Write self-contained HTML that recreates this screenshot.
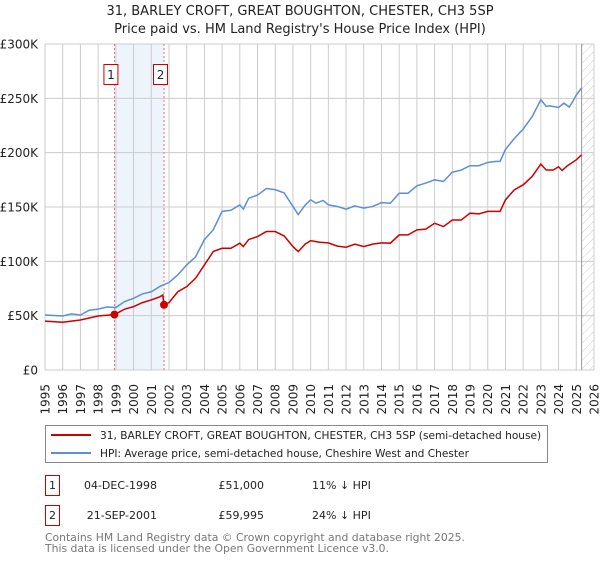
<!DOCTYPE html>
<html><head><meta charset="utf-8"><style>
body{margin:0;background:#fff;font-family:"DejaVu Sans","Liberation Sans",sans-serif;}
svg text{font-family:"DejaVu Sans","Liberation Sans",sans-serif;}
</style></head><body>
<svg id="chart" width="600" height="560" xmlns="http://www.w3.org/2000/svg">
<defs><pattern id="hatch" width="6" height="6" patternUnits="userSpaceOnUse" patternTransform="rotate(45)"><line x1="0" y1="0" x2="0" y2="6" stroke="#bbb" stroke-width="0.8"/></pattern></defs>
<text x="300" y="15" text-anchor="middle" font-size="13" fill="#222">31, BARLEY CROFT, GREAT BOUGHTON, CHESTER, CH3 5SP</text>
<text x="300" y="33" text-anchor="middle" font-size="13" fill="#222">Price paid vs. HM Land Registry's House Price Index (HPI)</text>
<g id="plot"></g>
<g>
<rect x="45.5" y="425.5" width="502" height="37" fill="#fff" stroke="#888"/>
<line x1="51" y1="435" x2="91" y2="435" stroke="#cc0000" stroke-width="2"/>
<text x="100" y="439" font-size="10.6" fill="#222">31, BARLEY CROFT, GREAT BOUGHTON, CHESTER, CH3 5SP (semi-detached house)</text>
<line x1="51" y1="453" x2="91" y2="453" stroke="#5b8fd6" stroke-width="2"/>
<text x="100" y="457" font-size="10.6" fill="#222">HPI: Average price, semi-detached house, Cheshire West and Chester</text>
</g>
<g font-size="11" fill="#222">
<rect x="45.5" y="475.5" width="14" height="20" fill="#fff" stroke="#cc0000"/>
<text x="52.5" y="489" text-anchor="middle">1</text>
<text x="157" y="489" text-anchor="end">04-DEC-1998</text>
<text x="264" y="489" text-anchor="end">£51,000</text>
<text x="312" y="489">11% ↓ HPI</text>
<rect x="45.5" y="505.5" width="14" height="20" fill="#fff" stroke="#cc0000"/>
<text x="52.5" y="519" text-anchor="middle">2</text>
<text x="157" y="519" text-anchor="end">21-SEP-2001</text>
<text x="264" y="519" text-anchor="end">£59,995</text>
<text x="312" y="519">24% ↓ HPI</text>
</g>
<text x="45" y="541" font-size="10.8" fill="#777">Contains HM Land Registry data © Crown copyright and database right 2025.</text>
<text x="45" y="552" font-size="10.8" fill="#777">This data is licensed under the Open Government Licence v3.0.</text>
</svg>
<script>
const hpiYears=[1995,1996,1996.5,1997,1997.5,1998,1998.5,1999,1999.5,2000,2000.5,2001,2001.5,2002,2002.5,2003,2003.5,2004,2004.5,2005,2005.5,2006,2006.2,2006.5,2007,2007.5,2008,2008.5,2009,2009.3,2009.7,2010,2010.3,2010.7,2011,2011.5,2012,2012.5,2013,2013.5,2014,2014.5,2015,2015.5,2016,2016.5,2017,2017.5,2018,2018.5,2019,2019.5,2020,2020.5,2020.7,2021,2021.5,2022,2022.5,2023,2023.3,2023.5,2024,2024.3,2024.6,2024.8,2025,2025.3];
const hpiValues=[50.6,49.7,51.6,50.6,55,56,58,57.5,63,66,70,72,77,80.5,87.5,96.7,104,120,129,146,147,152,148,158,161,167,166,163,150.5,143,152,156.6,153.5,156,152,150.5,148,151,149,150.5,154,153.5,162.7,162.7,169.5,172,175,173.5,182,184,188,188,191,192,192,203,213,221.7,233,248.7,242.6,243,241.6,245.6,242,247,253,259.5];
const priceYears=[1995,1996,1997,1998,1998.92,1999.5,2000,2000.5,2001,2001.5,2001.65,2001.72,2002,2002.5,2003,2003.5,2004,2004.5,2005,2005.5,2006,2006.2,2006.5,2007,2007.5,2008,2008.5,2009,2009.3,2009.7,2010,2010.5,2011,2011.5,2012,2012.5,2013,2013.5,2014,2014.5,2015,2015.5,2016,2016.5,2017,2017.5,2018,2018.5,2019,2019.5,2020,2020.7,2021,2021.5,2022,2022.5,2023,2023.3,2023.7,2024,2024.2,2024.5,2025,2025.3];
const priceValues=[45,44,46,49.7,51,56,58.3,62,64.5,67.5,69,60,62,72,76.7,84.4,96.7,109,112,112,116.7,113.6,120,122.8,127.4,127.4,123.4,113.6,109,116,119,117.6,117,114,113,115.8,113.6,115.8,117,116.7,124.3,124.3,129,129.6,135,132,138,138,144.3,143.7,146,146,156.6,165.8,170.4,178,189.5,184,184,187,183.6,188,193.4,198];
const saleYears=[1998.92,2001.72];
const saleValues=[51,59.995];
const saleLabels=["1","2"];
const yTicks=[0,50,100,150,200,250,300];
const yTickLabels=["£0","£50K","£100K","£150K","£200K","£250K","£300K"];
const xTicks=[1995,1996,1997,1998,1999,2000,2001,2002,2003,2004,2005,2006,2007,2008,2009,2010,2011,2012,2013,2014,2015,2016,2017,2018,2019,2020,2021,2022,2023,2024,2025,2026];
const dataEnd=2025.3;

const L=45,R=594,T=44,B=370;
const xs=y=>L+(y-1995)/(2026-1995)*(R-L);
const ys=v=>B-v/300*(B-T);
const NS="http://www.w3.org/2000/svg";
const g=document.getElementById('plot');
function mk(tag,attrs,parent){const e=document.createElementNS(NS,tag);for(const k in attrs)e.setAttribute(k,attrs[k]);(parent||g).appendChild(e);return e;}

const shade=mk('rect',{x:xs(saleYears[0]),y:T,width:xs(saleYears[1])-xs(saleYears[0]),height:B-T,fill:'#eef4fc'});


const hatch=mk('rect',{x:xs(dataEnd),y:T,width:R-xs(dataEnd),height:B-T,fill:'url(#hatch)'});



xTicks.forEach(t=>{
  const l=mk('line',{x1:xs(t),x2:xs(t),y1:T,y2:B,stroke:'#ccc','stroke-width':1});
  
  
  const x=xs(t);
  const tx=mk('text',{x:0,y:0,transform:`translate(${x+4.5},384) rotate(-90)`,'text-anchor':'end','font-size':'12',fill:'#222'});
  
  
  tx.textContent=t;
});
yTicks.forEach((t,i)=>{
  const l=mk('line',{x1:L,x2:R,y1:ys(t),y2:ys(t),stroke:'#ccc','stroke-width':1});
  
  
  const tx=mk('text',{x:38,y:ys(t)+4.5,'text-anchor':'end','font-size':'12',fill:'#222'});
  
  
  tx.textContent=yTickLabels[i];
});
const endLine=mk('line',{x1:xs(dataEnd),x2:xs(dataEnd),y1:T,y2:B,stroke:'#999','stroke-width':1});



saleYears.forEach((s,i)=>{
  const d=mk('line',{x1:xs(s),x2:xs(s),y1:T,y2:B,stroke:'#f07070','stroke-width':1,'stroke-dasharray':'2,2'});
  
  
  const bx=mk('rect',{x:xs(s)-10.5,y:64.5,width:14,height:20,fill:'#fff',stroke:'#cc0000'});
  
  
  const bt=mk('text',{x:xs(s)-3.5,y:79,'text-anchor':'middle','font-size':'12',fill:'#222'});
  
  
  bt.textContent=saleLabels[i];
});

const hp=mk('polyline',{points:hpiYears.map((y,i)=>xs(y)+','+ys(hpiValues[i])).join(' '),fill:'none',stroke:'#5b8fd6','stroke-width':1.5});


const pp=mk('polyline',{points:priceYears.map((y,i)=>xs(y)+','+ys(priceValues[i])).join(' '),fill:'none',stroke:'#cc0000','stroke-width':1.5});


saleYears.forEach((s,i)=>{
  const c=mk('circle',{cx:xs(s),cy:ys(saleValues[i]),r:4,fill:'#cc0000'});
  
  
});
</script>
</body></html>
